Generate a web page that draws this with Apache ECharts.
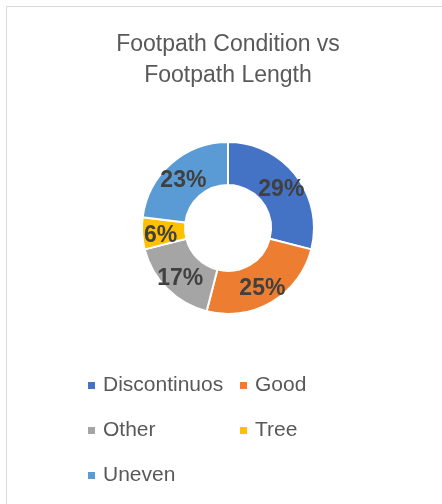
<!DOCTYPE html>
<html>
<head>
<meta charset="utf-8">
<script src="https://cdn.jsdelivr.net/npm/echarts@6/dist/echarts.min.js"></script>
<style>
  html, body { margin: 0; padding: 0; background: #fff; }
  #chart { width: 442px; height: 504px; }
</style>
</head>
<body>
<div id="chart"></div>
<script>
// chart data
var categories = ['Discontinuos', 'Good', 'Other', 'Tree', 'Uneven']
var shares = [29, 25, 17, 6, 23]
var colors = ['#4472C4', '#ED7D31', '#A5A5A5', '#FFC000', '#5B9BD5']

var chart = echarts.init(document.getElementById('chart'))

var legendBase = {
  orient: 'vertical',
  top: 375,
  padding: 0,
  icon: 'rect',
  itemWidth: 9,
  itemHeight: 9,
  itemGap: 24,
  textStyle: {
    color: '#595959',
    fontSize: 21,
    fontFamily: 'Liberation Sans',
    padding: [0, 0, 0, 2]
  }
}

chart.setOption({
  animation: false,
  title: {
    text: 'Footpath Condition vs\nFootpath Length',
    left: 228,
    textAlign: 'center',
    top: 29,
    padding: 0,
    textStyle: {
      color: '#595959',
      fontSize: 23,
      fontWeight: 'normal',
      fontFamily: 'Liberation Sans',
      lineHeight: 31
    }
  },
  graphic: [{
    type: 'rect',
    shape: { x: 6.5, y: 6.5, width: 600, height: 600 },
    style: { fill: 'none', stroke: '#D9D9D9', lineWidth: 1 }
  }],
  legend: [
    Object.assign({}, legendBase, { left: 86, data: [categories[0], categories[2], categories[4]] }),
    Object.assign({}, legendBase, { left: 238, data: [categories[1], categories[3]] })
  ],
  series: [{
    type: 'pie',
    center: [228, 228],
    radius: [43, 86],
    startAngle: 90,
    clockwise: true,
    itemStyle: { borderColor: '#fff', borderWidth: 2 },
    label: {
      show: true,
      position: 'inside',
      formatter: '{c}%',
      color: '#404040',
      fontSize: 23,
      fontWeight: 'bold',
      fontFamily: 'Liberation Sans',
      offset: [0, 3]
    },
    labelLine: { show: false },
    data: categories.map(function (name, i) {
      return { name: name, value: shares[i], itemStyle: { color: colors[i] } }
    })
  }]
})
</script>
</body>
</html>
